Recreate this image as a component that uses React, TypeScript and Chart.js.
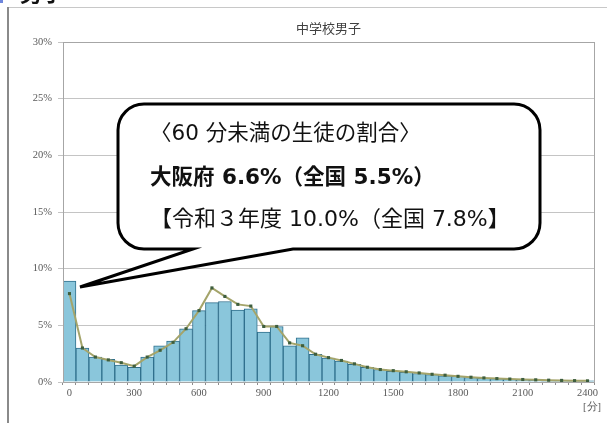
import React, { useEffect, useRef } from "react";
import { Chart, registerables } from "chart.js";

Chart.register(...registerables);

// minutes (category of each 60-minute bin)
const categories = [
  0, 60, 120, 180, 240, 300, 360, 420, 480, 540,
  600, 660, 720, 780, 840, 900, 960, 1020, 1080, 1140,
  1200, 1260, 1320, 1380, 1440, 1500, 1560, 1620, 1680, 1740,
  1800, 1860, 1920, 1980, 2040, 2100, 2160, 2220, 2280, 2340,
  2400,
];

// 大阪府 (bars), percent
const osakaValues = [
  8.9, 3.0, 2.2, 2.0, 1.5, 1.3, 2.2, 3.2, 3.6, 4.7,
  6.3, 7.0, 7.1, 6.35, 6.45, 4.4, 4.9, 3.2, 3.9, 2.45,
  2.1, 1.85, 1.55, 1.3, 1.1, 0.95, 0.85, 0.75, 0.65, 0.55,
  0.5, 0.4, 0.35, 0.3, 0.25, 0.22, 0.18, 0.15, 0.13, 0.12,
  0.1,
];

// 全国 (line), percent
const nationalValues = [
  7.8, 3.0, 2.2, 1.95, 1.7, 1.4, 2.2, 2.8, 3.5, 4.7,
  6.3, 8.3, 7.55, 6.85, 6.7, 4.9, 4.9, 3.45, 3.2, 2.45,
  2.15, 1.9, 1.6, 1.3, 1.1, 1.0, 0.9, 0.8, 0.68, 0.6,
  0.5, 0.42, 0.36, 0.3, 0.26, 0.22, 0.19, 0.16, 0.14, 0.12,
  0.1,
];

const yTicks = [0, 5, 10, 15, 20, 25, 30];

const chartTitle = "中学校男子";
const unitLabel = "[分]";
const calloutLines = [
  "〈60 分未満の生徒の割合〉",
  "大阪府 6.6%（全国 5.5%）",
  "【令和３年度 10.0%（全国 7.8%】",
];
const cornerText = "男子";

const labelFont = '"Liberation Serif", "DejaVu Serif", serif';
const cjkFont = '"DejaVu Sans", "Noto Sans CJK JP", sans-serif';

const extrasPlugin = {
  id: "extras",
  beforeDraw(chart: any) {
    const ctx = chart.ctx;
    ctx.save();
    ctx.fillStyle = "#ffffff";
    ctx.fillRect(0, 0, chart.width, chart.height);
    // outer frame
    ctx.strokeStyle = "#c8c8c8";
    ctx.lineWidth = 1;
    ctx.beginPath();
    ctx.moveTo(7, 7.5);
    ctx.lineTo(chart.width, 7.5);
    ctx.stroke();
    ctx.strokeStyle = "#8a8a8a";
    ctx.lineWidth = 2;
    ctx.beginPath();
    ctx.moveTo(8, 7);
    ctx.lineTo(8, chart.height);
    ctx.stroke();
    // cut-off heading at the very top
    ctx.fillStyle = "#6f86dc";
    ctx.fillRect(0, 0, 3, 3);
    ctx.fillStyle = "#111111";
    ctx.font = 'bold 22px "Noto Sans CJK JP", sans-serif';
    ctx.textBaseline = "alphabetic";
    ctx.textAlign = "left";
    ctx.fillText(cornerText, 20, 1);
    ctx.restore();
  },
  afterDraw(chart: any) {
    const ctx = chart.ctx;
    const a = chart.chartArea;
    ctx.save();
    // plot border
    ctx.strokeStyle = "#a6a6a6";
    ctx.lineWidth = 1;
    ctx.strokeRect(Math.round(a.left) + 0.5, Math.round(a.top) + 0.5, Math.round(a.right - a.left), Math.round(a.bottom - a.top));

    // title
    ctx.fillStyle = "#404040";
    ctx.font = '13px "Noto Sans CJK JP", sans-serif';
    ctx.textAlign = "center";
    ctx.textBaseline = "middle";
    ctx.fillText(chartTitle, (a.left + a.right) / 2, 28);

    // unit label
    ctx.fillStyle = "#595959";
    ctx.font = "10.5px " + labelFont;
    ctx.fillText(unitLabel, 592, 407);

    // callout
    const L = 118, T = 104, R = 540, B = 249, r = 26;
    const x1 = 193, x2 = 293, tipX = 80, tipY = 287;
    ctx.beginPath();
    ctx.moveTo(L + r, T);
    ctx.lineTo(R - r, T);
    ctx.arcTo(R, T, R, T + r, r);
    ctx.lineTo(R, B - r);
    ctx.arcTo(R, B, R - r, B, r);
    ctx.lineTo(x2, B);
    ctx.lineTo(tipX, tipY);
    ctx.lineTo(x1, B);
    ctx.lineTo(L + r, B);
    ctx.arcTo(L, B, L, B - r, r);
    ctx.lineTo(L, T + r);
    ctx.arcTo(L, T, L + r, T, r);
    ctx.closePath();
    ctx.fillStyle = "#ffffff";
    ctx.fill();
    ctx.strokeStyle = "#000000";
    ctx.lineWidth = 3;
    ctx.lineJoin = "miter";
    ctx.stroke();

    ctx.fillStyle = "#111111";
    ctx.textAlign = "left";
    ctx.textBaseline = "middle";
    ctx.font = "21.5px " + cjkFont;
    ctx.fillText(calloutLines[0], 150, 134);
    ctx.font = "bold 21.5px " + cjkFont;
    ctx.fillText(calloutLines[1], 150, 178);
    ctx.font = "22px " + cjkFont;
    ctx.fillText(calloutLines[2], 150, 220);
    ctx.restore();
  },
};

export default function App() {
  const canvasRef = useRef<HTMLCanvasElement | null>(null);

  useEffect(() => {
    document.body.style.margin = "0";
    const canvas = canvasRef.current;
    if (!canvas) return;
    const labels = categories.map((c) => String(c));
    const chart = new Chart(canvas, {
      type: "bar",
      data: {
        labels,
        datasets: [
          {
            type: "line",
            label: "全国",
            data: nationalValues,
            borderColor: "#a4a46a",
            borderWidth: 2,
            pointStyle: "rect",
            pointRadius: 2.2,
            pointBackgroundColor: "#3e5e3e",
            pointBorderColor: "#3e5e3e",
            pointBorderWidth: 0,
            tension: 0,
            order: 1,
          } as any,
          {
            type: "bar",
            label: "大阪府",
            data: osakaValues,
            backgroundColor: "#8ac6db",
            borderColor: "#2f6f8c",
            borderWidth: 1,
            barPercentage: 1,
            categoryPercentage: 1,
            order: 2,
          } as any,
        ],
      },
      options: {
        responsive: false,
        devicePixelRatio: 1,
        animation: false,
        layout: { padding: { top: 42, right: 13, left: 0, bottom: 0 } },
        plugins: {
          legend: { display: false },
          tooltip: { enabled: false },
          title: { display: false },
        },
        scales: {
          x: {
            type: "category",
            offset: true,
            afterFit: (s: any) => {
              s.height = 41;
            },
            grid: {
              display: true,
              drawOnChartArea: false,
              offset: true,
              tickLength: 3,
              color: "#8c8c8c",
            },
            border: { display: true, color: "#8c8c8c" },
            ticks: {
              autoSkip: false,
              maxRotation: 0,
              minRotation: 0,
              padding: 2,
              color: "#595959",
              font: { family: labelFont, size: 10.5 },
              callback: (_v: any, i: number) => (i % 5 === 0 ? labels[i] : ""),
            },
          },
          y: {
            min: yTicks[0],
            max: yTicks[yTicks.length - 1],
            afterFit: (s: any) => {
              s.width = 63;
            },
            afterBuildTicks: (s: any) => {
              s.ticks = yTicks.map((v) => ({ value: v }));
            },
            grid: { color: "#c4c4c4", tickLength: 5, lineWidth: 1 },
            border: { display: true, color: "#8c8c8c" },
            ticks: {
              padding: 6,
              color: "#595959",
              font: { family: labelFont, size: 10.5 },
              callback: (v: any) => v + "%",
            },
          },
        },
      },
      plugins: [extrasPlugin],
    });
    return () => chart.destroy();
  }, []);

  return (
    <div style={{ position: "absolute", left: 0, top: 0, width: 607, height: 423 }}>
      <canvas ref={canvasRef} width={607} height={423} style={{ width: 607, height: 423, display: "block" }} />
    </div>
  );
}
